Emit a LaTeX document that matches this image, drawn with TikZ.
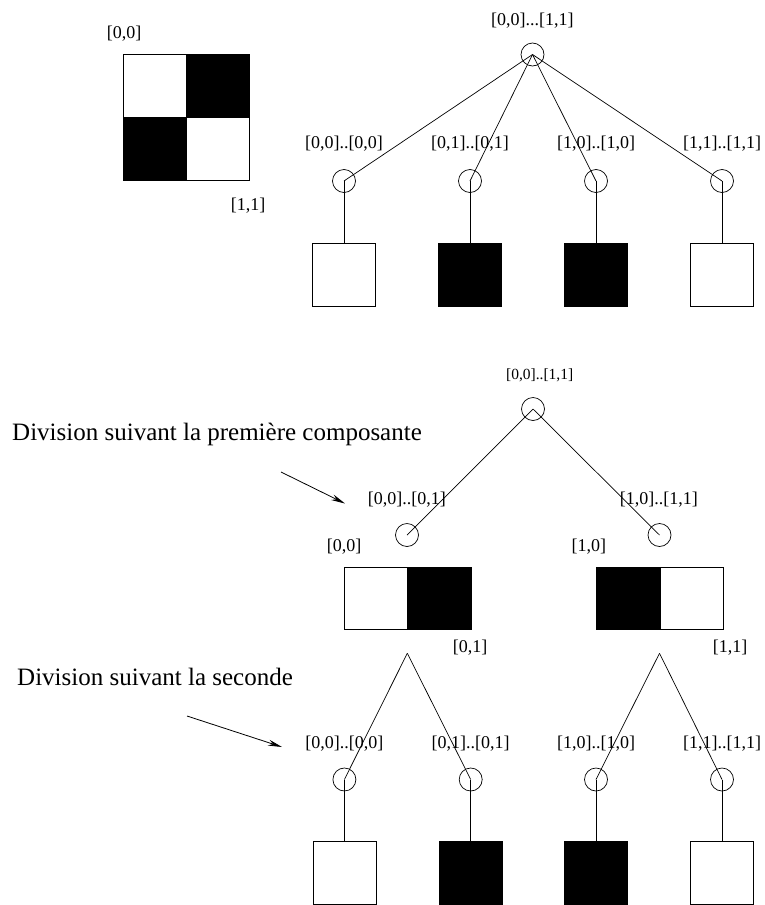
\documentclass[tikz,border=0pt]{standalone}
\usepackage{fontspec}
\setmainfont{Liberation Serif}
\usetikzlibrary{arrows.meta}
\begin{document}
\begin{tikzpicture}[x=1pt,y=-1pt,
  lab/.style={font=\fontsize{18}{20}\selectfont, inner sep=0pt},
  smalllab/.style={font=\fontsize{15.5}{18}\selectfont, inner sep=0pt},
  bigtext/.style={font=\fontsize{25}{28}\selectfont, inner sep=0pt, anchor=base west},
  knot/.style={circle, draw, line width=0.7pt, minimum size=23pt, inner sep=0pt},
  wsq/.style={draw, line width=0.8pt, fill=white, minimum width=63pt, minimum height=63pt, inner sep=0pt},
  bsq/.style={wsq, fill=black},
  wcell/.style={draw, line width=0.8pt, fill=white, minimum width=63.5pt, minimum height=62pt, inner sep=0pt},
  bcell/.style={wcell, fill=black},
  edge/.style={line width=0.7pt},
  pointer/.style={line width=0.8pt, -{Stealth[length=14pt,width=6pt]}}
]
\useasboundingbox (0,0) rectangle (764,905);

% ---------- top-left checkerboard ----------
\node[wcell, minimum height=63pt] (q1) at (154.8,85.8) {};
\node[bcell, minimum height=63pt] (q2) at (217.8,85.8) {};
\node[bcell, minimum height=63pt] (q3) at (154.8,149) {};
\node[wcell, minimum height=63pt] (q4) at (217.8,149) {};
\node[lab] (q00) at (124,34) {[0,0]};
\node[lab] (q11) at (248,206) {[1,1]};

% ---------- top tree ----------
\node[knot] (r) at (532.5,54.5) {};
\node[lab] (rl) at (532.3,20.3) {[0,0]...[1,1]};
\foreach \i/\x/\t in {1/344/{[0,0]..[0,0]},2/470/{[0,1]..[0,1]},3/596/{[1,0]..[1,0]},4/722/{[1,1]..[1,1]}}{
  \node[knot] (c\i) at (\x,181) {};
  \node[lab] (cl\i) at (\x,143.3) {\t};
}
\node[wsq] (s1) at (344,275) {};
\node[bsq] (s2) at (470,275) {};
\node[bsq] (s3) at (596,275) {};
\node[wsq] (s4) at (722,275) {};
\foreach \i in {1,...,4}{
  \draw[edge] (r.center) -- (c\i.center);
  \draw[edge] (c\i.center) -- (s\i.north);
}

% ---------- bottom tree, first division ----------
\node[knot] (R) at (533,409) {};
\node[smalllab] (Rl) at (539.7,375) {[0,0]..[1,1]};
\node[knot] (L) at (407,535) {};
\node[knot] (Rt) at (659.5,535) {};
\node[lab] (Ll) at (406.8,500) {[0,0]..[0,1]};
\node[lab] (Rtl) at (658.8,500) {[1,0]..[1,1]};
\draw[edge] (R.center) -- (L.center);
\draw[edge] (R.center) -- (Rt.center);

\node[lab] (p00) at (344,546.7) {[0,0]};
\node[lab] (p10) at (588.8,546.7) {[1,0]};
\node[wcell] (h1) at (375.7,598) {};
\node[bcell] (h2) at (439.2,598) {};
\node[bcell] (h3) at (628.2,598) {};
\node[wcell] (h4) at (691.7,598) {};
\node[lab] (p01) at (470,647.7) {[0,1]};
\node[lab] (p11) at (730,647.7) {[1,1]};

% ---------- bottom tree, second division ----------
\coordinate (A1) at (407.3,653.3);
\coordinate (A2) at (659.5,653.3);
\foreach \i/\x/\t in {1/344.4/{[0,0]..[0,0]},2/470.7/{[0,1]..[0,1]},3/596/{[1,0]..[1,0]},4/722/{[1,1]..[1,1]}}{
  \node[knot] (d\i) at (\x,779.5) {};
  \node[lab] (dl\i) at (\x,743.3) {\t};
}
\node[wsq] (t1) at (344.4,873) {};
\node[bsq] (t2) at (470.7,873) {};
\node[bsq] (t3) at (596,873) {};
\node[wsq] (t4) at (722,873) {};
\draw[edge] (A1) -- (d1.center);
\draw[edge] (A1) -- (d2.center);
\draw[edge] (A2) -- (d3.center);
\draw[edge] (A2) -- (d4.center);
\foreach \i in {1,...,4}{
  \draw[edge] (d\i.center) -- (t\i.north);
}

% ---------- annotations ----------
\node[bigtext] (div1) at (12,440) {Division suivant la première composante};
\coordinate (a1s) at (281,472);
\coordinate (a1e) at (345,503.5);
\draw[pointer] (a1s) -- (a1e);
\node[bigtext] (div2) at (17,685) {Division suivant la seconde};
\coordinate (a2s) at (187,716);
\coordinate (a2e) at (282,747);
\draw[pointer] (a2s) -- (a2e);
\end{tikzpicture}
\end{document}
